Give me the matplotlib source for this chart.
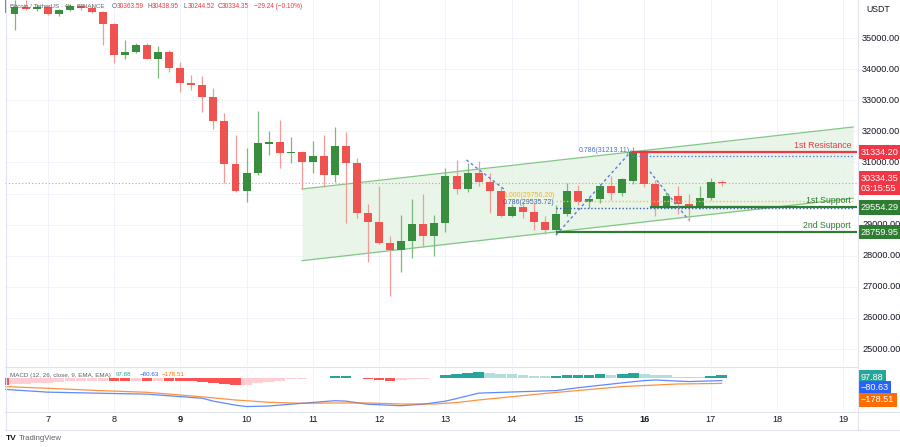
import numpy as np
import pandas as pd
import matplotlib
matplotlib.use("Agg")
import matplotlib.pyplot as plt
import matplotlib.transforms as mtransforms
from matplotlib.lines import Line2D

plt.rcParams['font.family'] = ['Liberation Sans', 'DejaVu Sans']

# 4h candles, index 0 = day 6 12:00, day d 00:00 = 3 + 6*(d-7)
opens = [36300, 35780, 35990, 35930, 35990, 35772, 35900, 36040, 35965, 35836,
         35450, 34453, 34550, 34775, 34325, 34550, 34035, 33553, 33489, 33100,
         32320, 30939, 30091, 30650, 31600, 31640, 31293, 31345, 31004, 31206,
         30595, 31528, 30972, 29385, 29094, 28400, 28184, 28473, 29010, 28634,
         29042, 30563, 30145, 30669, 30360, 30081, 29277, 29576, 29415, 29075,
         28827, 29342, 30081, 29737, 29824, 30242, 30007, 30400, 31325, 30306,
         29555, 29930, 29663, 29555, 29865, 30363.59]
highs = [36500, 36220, 36220, 36080, 36060, 35930, 36090, 36100, 36030, 35870,
         35480, 34935, 34850, 34840, 34743, 34615, 34228, 33810, 33778, 33390,
         32579, 31881, 31454, 32653, 32010, 32364, 31807, 31360, 31688, 31881,
         32148, 31987, 31132, 29663, 30242, 28634, 29309, 29824, 29975, 29309,
         30810, 31078, 30985, 31046, 30650, 30220, 29650, 29737, 29695, 29287,
         29631, 30349, 30274, 29900, 30300, 30563, 30500, 31480, 31360, 30435,
         30050, 30242, 29975, 30242, 30508, 30438.95]
lows = [35700, 35260, 35900, 35880, 35740, 35710, 35870, 35900, 35800, 34775,
        34200, 34325, 34510, 34310, 33714, 33907, 33264, 33328, 32620, 32074,
        30328, 30059, 29737, 30595, 31240, 30830, 30971, 30135, 30650, 30200,
        30380, 29042, 29203, 27808, 28380, 26705, 27486, 27917, 28290, 28000,
        28772, 30000, 30060, 30242, 29383, 29235, 29250, 29203, 28827, 28689,
        28680, 29280, 29631, 29525, 29700, 29791, 29930, 30300, 30220, 29277,
        29520, 29340, 29126, 29500, 29800, 30244.52]
closes = [35800, 35990, 35930, 35990, 35772, 35900, 36040, 35965, 35836, 35450,
          34453, 34550, 34775, 34325, 34550, 34035, 33553, 33489, 33100, 32320,
          30939, 30091, 30650, 31615, 31640, 31293, 31345, 31004, 31206, 30595,
          31528, 30972, 29364, 29094, 28400, 28184, 28473, 29010, 28634, 29042,
          30563, 30145, 30669, 30360, 30081, 29277, 29576, 29415, 29075, 28827,
          29342, 30091, 29737, 29824, 30242, 30007, 30457, 31325, 30306, 29576,
          29930, 29663, 29555, 29865, 30363.59, 30334.35]
first_index = -1

# MACD pane
hist = [-233, -200, -190, -155, -150, -117, -95, -85, -83, -80, -93, -100, -85, -105,
        -90, -95, -100, -105, -117, -152, -198, -235, -225, -175, -117, -82, -35, -23,
        8, 15, 80, 82, 5, -35, -58, -82, -58, -23, -12, 12, 117, 152, 198, 222, 198,
        152, 150, 128, 93, 82, 93, 128, 130, 132, 150, 128, 150, 198, 152, 117, 105,
        58, 47, 45, 70, 97.88]
macd_idx = [-1, 3, 8, 12, 17, 18, 20, 21, 23, 26, 29, 30, 32, 35, 37, 39, 40, 42, 45,
            49, 51, 55, 57, 58, 61, 64]
macd_val = [-385, -485, -525, -555, -700, -800, -940, -990, -970, -875, -785, -800,
            -910, -960, -905, -800, -710, -520, -480, -430, -330, -160, -80, -60,
            -115, -80.63]
sig_idx = [-1, 3, 8, 12, 17, 20, 23, 26, 29, 32, 35, 38, 40, 42, 48, 55, 60, 64]
sig_val = [-290, -350, -435, -490, -650, -760, -840, -875, -865, -865, -900, -900,
           -850, -760, -530, -290, -200, -178.51]

# drawings
channel_x = [26.02, 75.9]
channel_upper = [30145, 32139]
channel_lower = [27840, 29846]
resistance = 31334.20
support1 = 29554.29
support2 = 28759.95
fib_top = 31213.11
fib_one = 29756.20
fib_low = 29535.72
last_price = 30334.35
swing_a = ([40.9, 44.4], [31078, 30113])
swing_b = ([49.0, 55.85], [28666, 31377])
swing_c = ([57.5, 61.0], [30701, 29148])

days = list(range(7, 20))
price_ticks = [25000, 26000, 27000, 28000, 29000, 31000, 32000, 33000, 34000, 35000]

df = pd.DataFrame({'open': opens, 'high': highs, 'low': lows, 'close': closes})
df.index = np.arange(first_index, first_index + len(df))

GREEN = '#388e3c'
RED = '#ef5350'
W, H = 900, 447

fig = plt.figure(figsize=(9, 4.47), dpi=100)
fig.patch.set_facecolor('white')


def fx(px):
    return px / W


def fy(py):
    return 1 - py / H


ax = fig.add_axes([fx(5), fy(366), 852 / W, 366 / H])
mx = fig.add_axes([fx(5), fy(411), 852 / W, 44 / H])
xlim = (-0.86, 76.24)
ax.set_xlim(*xlim)
ax.set_ylim(24453.5, 36221.9)
mx.set_xlim(*xlim)
mx.set_ylim(-1145, 395)

day_pos = [3 + 6 * (d - 7) for d in days]
for a in (ax, mx):
    for s in a.spines.values():
        s.set_visible(False)
    a.set_xticks([])
    a.set_yticks([])
    for p in day_pos:
        a.axvline(p, color='#f0f3fa', lw=0.7, zorder=0)
for p in price_ticks + [30000]:
    ax.axhline(p, color='#f0f3fa', lw=0.7, zorder=0)

# channel
ax.fill_between(channel_x, channel_lower, channel_upper, color='#e6f4e6', alpha=0.9,
                zorder=1, lw=0)
ax.plot(channel_x, channel_upper, color='#81c784', lw=0.9, zorder=2)
ax.plot(channel_x, channel_lower, color='#81c784', lw=0.9, zorder=2)

# candles
up = df['close'] >= df['open']
colors = np.where(up, GREEN, RED)
wick_colors = np.where(up, '#7cb87e', '#f59a98')
ax.vlines(df.index, df['low'], df['high'], colors=wick_colors, lw=0.9, zorder=3)
body_low = np.minimum(df['open'], df['close'])
body_h = np.maximum((df['close'] - df['open']).abs(), 30)
ax.bar(df.index, body_h, bottom=body_low, width=0.72, color=colors, lw=0, zorder=4)

# level lines
ax.axhline(last_price, color='#f28b8b', lw=0.8, ls=(0, (1, 2)), zorder=2)
ax.hlines(resistance, 55.85, xlim[1], color='#f23645', lw=1.6, zorder=5)
ax.hlines(fib_top, 55.85, 75.9, color='#5b7fd8', lw=1.0, ls=(0, (1, 1.5)), zorder=5)
ax.hlines(fib_one, 49.0, 75.9, color='#f5c242', lw=1.0, ls=(0, (1, 1.5)), zorder=5)
ax.hlines(fib_low, 49.0, 75.9, color='#3f5fa8', lw=1.0, ls=(0, (1, 1.5)), zorder=5)
ax.hlines(support1, 57.5, xlim[1], color='#2e7d32', lw=1.6, zorder=5)
ax.hlines(support2, 49.0, xlim[1], color='#2e7d32', lw=1.6, zorder=5)
for sx, sy in (swing_a, swing_b, swing_c):
    ax.plot(sx, sy, color='#5b7fd8', lw=1.0, ls=(0, (2, 2)), zorder=6)

ax.text(55.7, fib_top + 70, '0.786(31213.11)', color='#4a6fc9', fontsize=5.0,
        ha='right', va='bottom', zorder=7)
ax.text(48.9, fib_one + 60, '1.000(29756.20)', color='#f0b429', fontsize=5.0,
        ha='right', va='bottom', zorder=7)
ax.text(48.9, fib_low + 60, '0.786(29535.72)', color='#3f5fa8', fontsize=5.0,
        ha='right', va='bottom', zorder=7)
ax.text(75.7, resistance + 80, '1st Resistance', color='#f23645', fontsize=6.3,
        ha='right', va='bottom', zorder=7)
ax.text(75.7, support1 + 80, '1st Support', color='#2e7d32', fontsize=6.3,
        ha='right', va='bottom', zorder=7)
ax.text(75.7, support2 + 80, '2nd Support', color='#2e7d32', fontsize=6.3,
        ha='right', va='bottom', zorder=7)

# header
HF = 4.7
fig.text(fx(10), fy(6), 'Bitcoin / TetherUS · 4h · BINANCE', fontsize=HF - 0.3,
         color='#5d606b', va='center', ha='left')
hdr = [(112, 'O', '30363.59'), (147.5, 'H', '30438.95'), (183, 'L', '30244.52'),
       (217.5, 'C', '30334.35')]
for px, lab, val in hdr:
    fig.text(fx(px), fy(6), lab, fontsize=HF, color='#5d606b', va='center')
    fig.text(fx(px + 4.3), fy(6), val, fontsize=HF, color='#f23645', va='center')
fig.text(fx(254), fy(6), '−29.24 (−0.10%)', fontsize=HF, color='#f23645', va='center')

# price axis
trans = mtransforms.blended_transform_factory(ax.transAxes, ax.transData)
for p in price_ticks:
    ax.text(1.006, p, f'{p:.2f}', transform=trans, fontsize=6.6, color='#131722',
            va='center', ha='left', clip_on=False)
fig.text(fx(866), fy(9), 'USDT', fontsize=6.3, color='#131722', va='center')


def price_box(a, t, val, text, fc):
    a.text(1.004, val, text, transform=t, fontsize=6.6, color='white', va='center',
           ha='left', clip_on=False, linespacing=1.15, zorder=10,
           bbox=dict(boxstyle='square,pad=0.3', fc=fc, ec='none'))


price_box(ax, trans, resistance, f'{resistance:.2f}', '#f23645')
price_box(ax, trans, last_price, f'{last_price:.2f}\n03:15:55', '#f23645')
price_box(ax, trans, support1, f'{support1:.2f}', '#2e7d32')
price_box(ax, trans, support2, f'{support2:.2f}', '#2e7d32')

# MACD
hist_arr = np.array(hist)
prev = np.concatenate([[np.inf], hist_arr[:-1]])
hcol = []
for v, pv in zip(hist_arr, prev):
    if v >= 0:
        hcol.append('#26a69a' if v >= pv else '#b2dfdb')
    else:
        hcol.append('#ff5252' if v <= pv or pv == np.inf else '#ffcdd2')
mx.bar(df.index, hist_arr, width=0.95, color=hcol, lw=0, zorder=2)
mx.plot(macd_idx, macd_val, color='#2962ff', lw=0.9, alpha=0.75, zorder=3)
mx.plot(sig_idx, sig_val, color='#ff6d00', lw=0.9, alpha=0.75, zorder=3)
MF = 4.5
fig.text(fx(10), fy(375), 'MACD (12, 26, close, 9, EMA, EMA)', fontsize=MF,
         color='#5d606b', va='center')
fig.text(fx(116), fy(375), '97.88', fontsize=MF, color='#26a69a', va='center')
fig.text(fx(140), fy(375), '−80.63', fontsize=MF, color='#2962ff', va='center')
fig.text(fx(162), fy(375), '−178.51', fontsize=MF, color='#ff6d00', va='center')
mtrans = mtransforms.blended_transform_factory(mx.transAxes, mx.transData)
for val, txt, fc in [(45, f'{hist[-1]:.2f}', '#26a69a'),
                     (-340, f'{macd_val[-1]:.2f}', '#2962ff'),
                     (-760, f'{sig_val[-1]:.2f}', '#ff6d00')]:
    mx.text(1.004, val, txt.replace('-', '−'), transform=mtrans, fontsize=6.6,
            color='white', va='center', ha='left', clip_on=False,
            bbox=dict(boxstyle='square,pad=0.3', fc=fc, ec='none'))

# time axis
for d, p in zip(days, day_pos):
    px = 5 + (p - xlim[0]) / (xlim[1] - xlim[0]) * 852
    fig.text(fx(px), fy(420), str(d), fontsize=6.6, color='#131722', ha='center',
             va='center', fontweight='bold' if d in (9, 16) else 'normal')

# frame lines
for (x0, y0, x1, y1) in [(5, 366.5, 857, 366.5), (5, 411.5, 900, 411.5),
                         (5, 429.5, 900, 429.5), (857.5, 0, 857.5, 429.5),
                         (5.5, 0, 5.5, 429.5)]:
    fig.add_artist(Line2D([fx(x0), fx(x1)], [fy(y0), fy(y1)], color='#e0e3eb', lw=0.8))

fig.text(fx(6), fy(438), 'TV', fontsize=6, color='#131722', fontweight='bold', va='center')
fig.text(fx(19), fy(438), 'TradingView', fontsize=5.6, color='#5d606b', va='center')

fig.savefig('out.png', dpi=100)
